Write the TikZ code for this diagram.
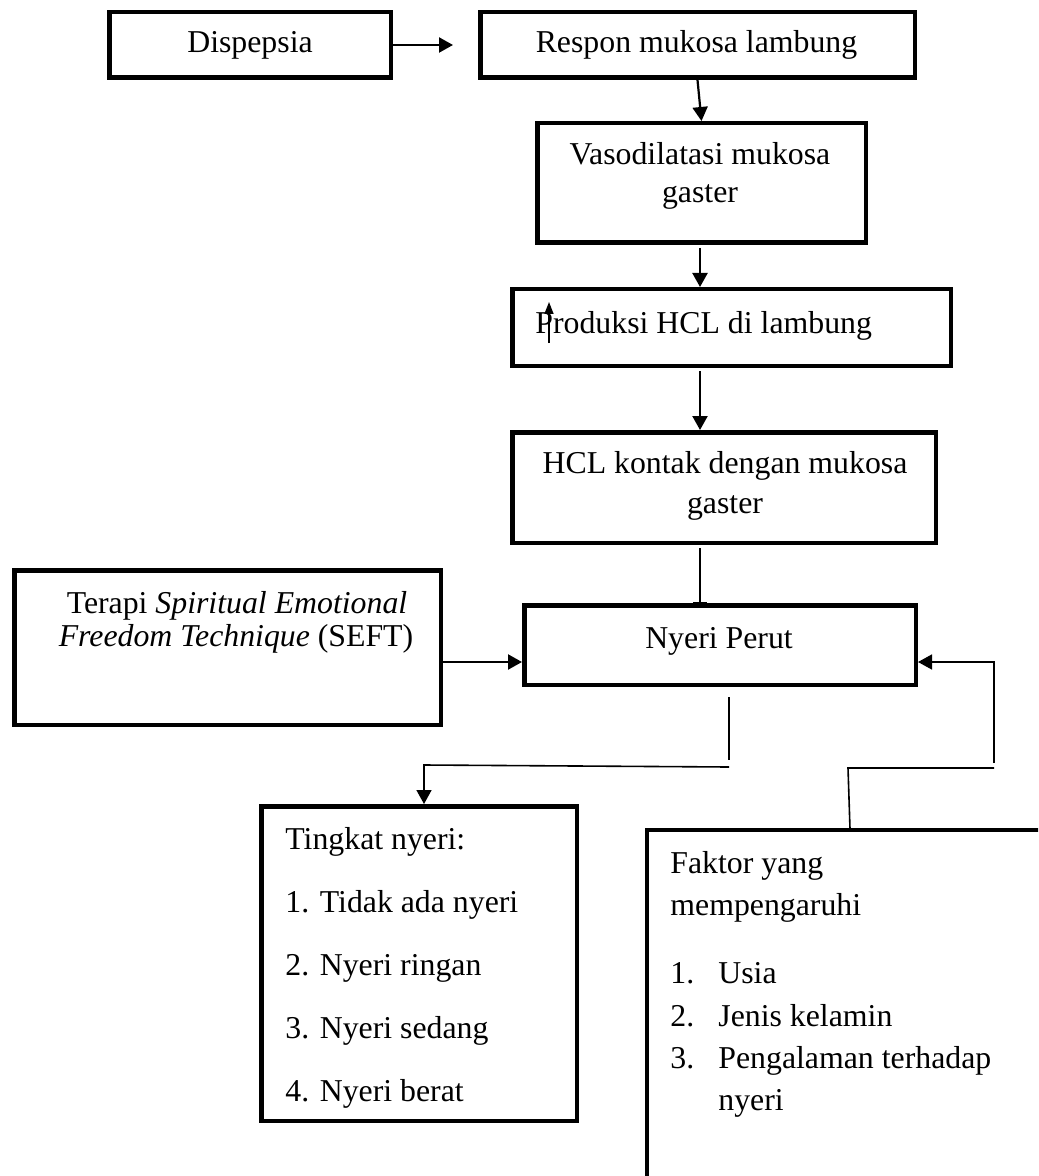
\documentclass[tikz,border=0pt]{standalone}
\usepackage{fontspec}
\setmainfont{Liberation Serif}
\usetikzlibrary{arrows.meta,calc}
\begin{document}
\begin{tikzpicture}[x=0.5pt,y=-0.5pt,
  box/.style={draw, rectangle, line width=2.25pt, inner sep=0pt},
  txt/.style={inner sep=0pt, font=\fontsize{15.9}{19}\selectfont},
  arr/.style={line width=1.1pt, -{Triangle[length=7pt,width=7.5pt]}},
  conn/.style={line width=0.8pt},
  arrthin/.style={line width=0.8pt, -{Triangle[length=7pt,width=7.5pt]}},
  arrsmall/.style={line width=0.7pt, -{Triangle[length=6pt,width=4.5pt]}}]
\useasboundingbox (0,0) rectangle (1038,1176);
\clip (0,0) rectangle (1038,1176);
\fill[white] (0,0) rectangle (1038,1176);

% boxes
\node[box, minimum width=140.75pt, minimum height=32.75pt] (disp) at (250,45) {};
\node[box, minimum width=217.25pt, minimum height=32.75pt] (resp) at (697.5,45) {};
\node[box, minimum width=164.25pt, minimum height=59.75pt] (vaso) at (701.5,183) {};
\node[box, minimum width=219.25pt, minimum height=38.25pt] (prod) at (731.5,327.5) {};
\node[box, minimum width=211.75pt, minimum height=55.25pt] (hcl) at (724,487.5) {};
\node[box, minimum width=213.25pt, minimum height=77.25pt] (terapi) at (227.5,647.5) {};
\node[box, minimum width=195.75pt, minimum height=39.75pt] (nyeri) at (720,645) {};
\node[box, minimum width=157.75pt, minimum height=157.25pt] (ting) at (419,963.5) {};
\node[box, minimum width=236.4pt, minimum height=214.9pt] (faktor) at (883.6,1045.1) {};

% texts
\node[txt, anchor=base] (tdisp) at (250,53) {Dispepsia};
\node[txt, anchor=base] (tresp) at (696.5,53) {Respon mukosa lambung};
\node[txt, anchor=base] (tvaso1) at (700,165) {Vasodilatasi mukosa};
\node[txt, anchor=base] (tvaso2) at (700,203) {gaster};
\node[txt, anchor=base west] (tprod) at (535,334) {Produksi HCL di lambung};
\node[txt, anchor=base] (thcl1) at (725,473) {HCL kontak dengan mukosa};
\node[txt, anchor=base] (thcl2) at (725,513) {gaster};
\node[txt, anchor=base] (tter1) at (237,613) {Terapi \textit{Spiritual Emotional}};
\node[txt, anchor=base] (tter2) at (236,646) {\textit{Freedom Technique} (SEFT)};
\node[txt, anchor=base] (tnyeri) at (719,648) {Nyeri Perut};

\node[txt, anchor=base west] (tt0) at (285,849) {Tingkat nyeri:};
\node[txt, anchor=base west] (tt1) at (285,912) {1. Tidak ada nyeri};
\node[txt, anchor=base west] (tt2) at (285,975) {2. Nyeri ringan};
\node[txt, anchor=base west] (tt3) at (285,1038) {3. Nyeri sedang};
\node[txt, anchor=base west] (tt4) at (285,1101) {4. Nyeri berat};

\node[txt, anchor=base west] (tf0) at (670,873) {Faktor yang};
\node[txt, anchor=base west] (tf1) at (670,915) {mempengaruhi};
\node[txt, anchor=base west] (tfn1) at (670,983) {1.};
\node[txt, anchor=base west] (tfl1) at (718,983) {Usia};
\node[txt, anchor=base west] (tfn2) at (670,1026) {2.};
\node[txt, anchor=base west] (tfl2) at (718,1026) {Jenis kelamin};
\node[txt, anchor=base west] (tfn3) at (670,1068) {3.};
\node[txt, anchor=base west] (tfl3) at (718,1068) {Pengalaman terhadap};
\node[txt, anchor=base west] (tfl4) at (718,1110) {nyeri};

% connectors
\draw[arr] (disp.east) -- ($(resp.west)+(-25,0)$);
\draw[arr] (resp.south) -- (vaso.north);
\coordinate (ax) at (700,0);
\draw[arr, shorten <=1.5pt] (ax |- vaso.south) -- (ax |- prod.north);
\draw[arr, shorten <=1.5pt] (ax |- prod.south) -- (ax |- hcl.north);
\draw[arr, line width=1.1pt, -] ($(ax |- hcl.south)+(0,3)$) -- (ax |- nyeri.north);
\draw[line width=0.6pt] ($(ax |- nyeri.north)+(-7,0)$) -- ($(ax |- nyeri.north)+(7,0)$);

% small up arrow inside Produksi box
\coordinate (ua1) at (549,343);
\coordinate (ua2) at (549,302);
\draw[arrsmall] (ua1) -- (ua2);

\draw[arr] ($(terapi.east)+(0,14.5)$) -- ($(nyeri.west)+(0,17)$);

% Nyeri Perut -> Tingkat nyeri
\coordinate (nb1) at (729,697);
\coordinate (nb2) at (729,760);
\coordinate (nb3) at (729,767);
\coordinate (nb4) at (424,765);
\draw[conn] (nb1) -- (nb2);
\draw[arrthin] (nb3) -- (nb4) -- (nb4 |- ting.north);

% Faktor -> Nyeri Perut
\coordinate (fb2) at (848,768);
\coordinate (fb3) at (994,768);
\coordinate (fb4) at (994,763);
\coordinate (fb5) at (994,662);
\draw[conn] (850,829) -- (fb2) -- (fb3);
\draw[arrthin] (fb4) -- (fb5) -- (nyeri.east |- fb5);
\end{tikzpicture}
\end{document}
